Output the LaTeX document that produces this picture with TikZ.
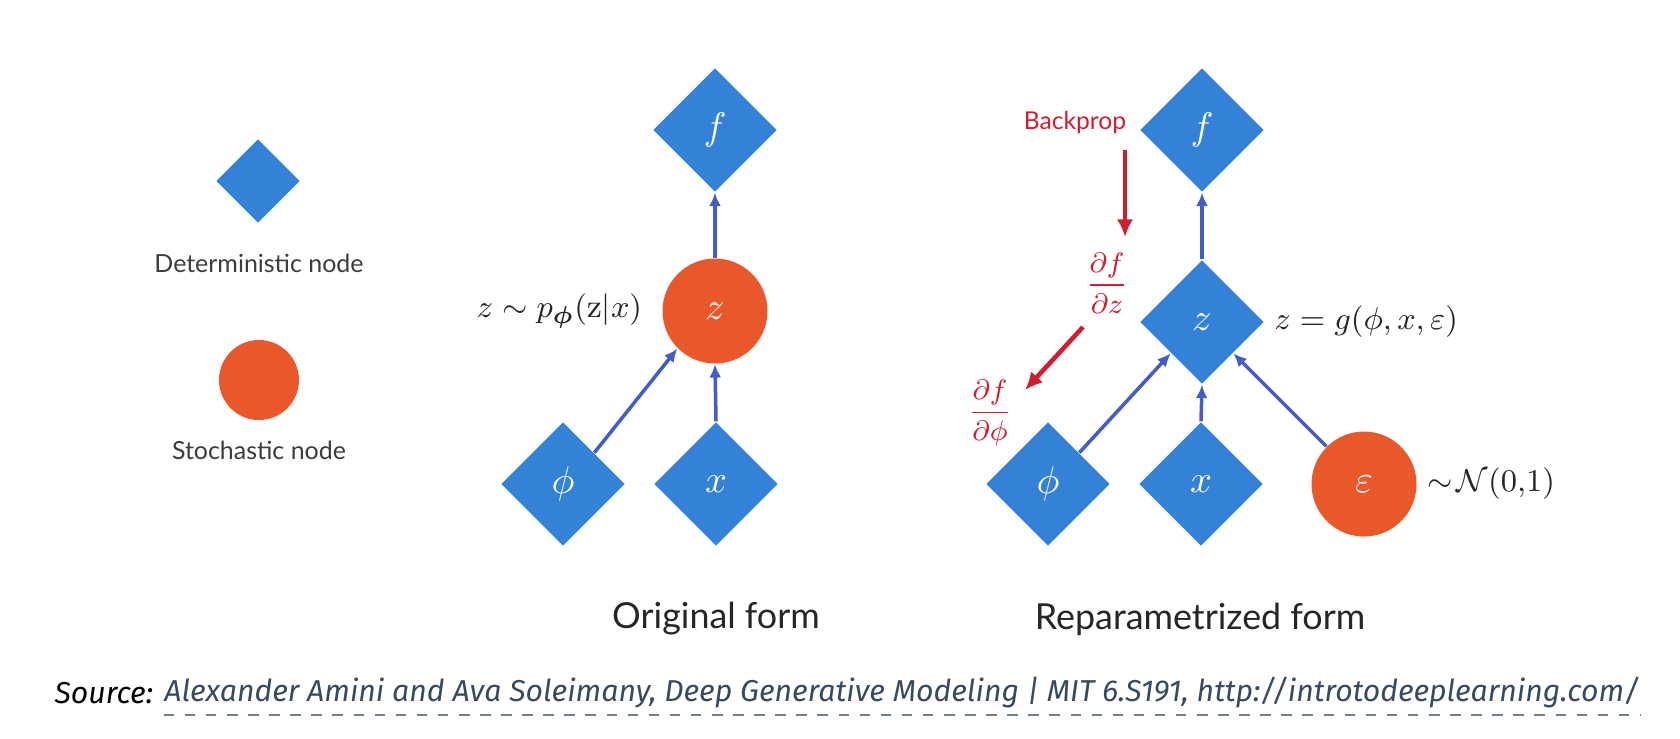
\documentclass[tikz,border=0pt]{standalone}
\usepackage{amsmath, amssymb}
\usepackage{bm}
\usepackage{fontspec}
\newfontfamily\gillfont{Lato}
\newfontfamily\srcfont{Fira Sans}
\usepackage{xcolor}
\usetikzlibrary{positioning,arrows.meta,shapes.geometric}
\definecolor{detblue}{RGB}{52,129,216}
\definecolor{stoorange}{RGB}{232,88,42}
\definecolor{edgeblue}{RGB}{66,92,200}
\definecolor{bpred}{RGB}{206,30,48}
\definecolor{legtext}{RGB}{60,60,60}
\definecolor{linkslate}{RGB}{58,74,94}

\begin{document}
\begin{tikzpicture}[
        det/.style={diamond, aspect=1, fill=detblue, inner sep=0pt, minimum size=1.24cm, text=white, font=\fontsize{10.5}{12}\selectfont},
        sto/.style={circle, fill=stoorange, inner sep=0pt, minimum size=1.05cm, text=white, font=\fontsize{10.5}{12}\selectfont},
        flow/.style={edgeblue, line width=1pt, -{Latex[length=3.8pt,width=3.4pt]}},
        bp/.style={bpred, line width=1.3pt, -{Latex[length=5pt,width=4.6pt]}},
        eq/.style={inner sep=0pt, text=black!85, font=\fontsize{9.4}{11}\selectfont},
        grad/.style={inner sep=0pt, text=bpred, font=\fontsize{8.2}{10}\selectfont},
        legend/.style={inner sep=0pt, text=legtext, font=\gillfont\fontsize{7.1}{8}\selectfont},
        caption/.style={inner sep=0pt, text=black!85, font=\gillfont\fontsize{10.2}{12}\selectfont}
    ]
        \useasboundingbox (0,0) rectangle (16.8,-7.38);

        % legend
        \node[det, minimum size=0.84cm] (legdet) at (2.58,-1.81) {};
        \node[legend] (legdettxt) at (2.59,-2.63) {Deterministic node};
        \node[sto, minimum size=0.8cm] (legsto) at (2.59,-3.80) {};
        \node[legend] (legstotxt) at (2.59,-4.50) {Stochastic node};

        % original form
        \node[det] (of) at (7.15,-1.30) {$f$};
        \node[sto] (oz) at (7.15,-3.11) {$z$};
        \node[det] (ophi) at (5.63,-4.84) {$\phi$};
        \node[det] (ox) at (7.16,-4.84) {$x$};
        \node[eq, left=0.19cm of oz] (ozlab) {$z \sim p_{\bm{\phi}}(\mathrm{z}|x)$};
        \node[caption] (origtxt) at (7.16,-6.19) {Original form};
        \draw[flow] (oz.north) -- (of.south);
        \draw[flow] (ophi.north east) -- (oz.south west);
        \draw[flow] (ox.north) -- (oz.south);

        % reparametrized form
        \node[det] (rf) at (12.02,-1.30) {$f$};
        \node[det] (rz) at (12.02,-3.22) {$z$};
        \node[det] (rphi) at (10.48,-4.84) {$\phi$};
        \node[det] (rx) at (12.01,-4.84) {$x$};
        \node[sto] (reps) at (13.64,-4.84) {$\varepsilon$};
        \node[eq, right=0.09cm of rz] (rzlab) {$z = g(\phi, x, \varepsilon)$};
        \node[eq, right=0.1cm of reps] (epslab) {$\sim\!\mathcal{N}(0{,}1)$};
        \node[caption] (reptxt) at (12.00,-6.19) {Reparametrized form};
        \draw[flow] (rz.north) -- (rf.south);
        \draw[flow] (rphi.north east) -- (rz.south west);
        \draw[flow] (rx.north) -- (rz.south);
        \draw[flow] (reps.north west) -- (rz.south east);

        % backprop
        \node[inner sep=0pt, text=bpred, font=\gillfont\fontsize{7}{8}\selectfont] (backprop) at (10.75,-1.23) {Backprop};
        \node[grad] (dfdz) at (11.07,-2.83) {$\dfrac{\partial f}{\partial z}$};
        \node[grad] (dfdphi) at (9.90,-4.13) {$\dfrac{\partial f}{\partial \phi}$};
        \coordinate (bp1) at (11.25,-1.50);
        \coordinate (bp2) at (11.25,-2.37);
        \coordinate (bp3) at (10.83,-3.27);
        \coordinate (bp4) at (10.25,-3.90);
        \draw[bp] (bp1) -- (bp2);
        \draw[bp] (bp3) -- (bp4);

        % source line
        \node[inner sep=0pt, anchor=west, font=\srcfont\itshape\fontsize{8.6}{10}\selectfont] (srclab) at (0.54,-6.93) {Source:};
        \node[inner sep=0pt, right=0.1cm of srclab, text=linkslate, font=\srcfont\itshape\fontsize{8.6}{10}\selectfont] (srclink) {Alexander Amini and Ava Soleimany, Deep Generative Modeling | MIT 6.S191, http://introtodeeplearning.com/};
        \draw[linkslate!70, dashed, line width=0.5pt] ([yshift=-0.13cm]srclink.base west) -- ([yshift=-0.13cm]srclink.base east);
    \end{tikzpicture}
\end{document}
